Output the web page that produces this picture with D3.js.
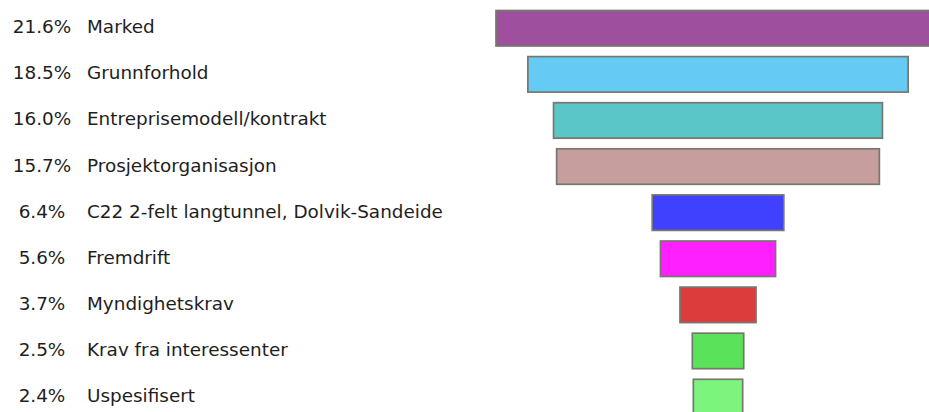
<!DOCTYPE html>
<html>
<head>
<meta charset="utf-8">
<script src="https://cdn.jsdelivr.net/npm/d3@7"></script>
<style>
  html, body { margin: 0; padding: 0; background: #fff; overflow: hidden; }
  svg { display: block; }
  text { font-family: "DejaVu Sans", sans-serif; font-size: 18.4px; fill: #1e1e1e; }
</style>
</head>
<body>
<svg id="chart"></svg>
<script>
var CATEGORIES = [
    "Marked",
    "Grunnforhold",
    "Entreprisemodell/kontrakt",
    "Prosjektorganisasjon",
    "C22 2-felt langtunnel, Dolvik-Sandeide",
    "Fremdrift",
    "Myndighetskrav",
    "Krav fra interessenter",
    "Uspesifisert"
];
var SHARES = [21.6, 18.5, 16.0, 15.7, 6.4, 5.6, 3.7, 2.5, 2.4];
var COLOURS = ["#9e509e", "#66cbf4", "#5bc6c8", "#c69e9e", "#4040ff", "#ff20ff", "#dc3c3c", "#5ae25a", "#7df57d"];

var W = 929, H = 412;
var CENTER = 718;
var fmt = d3.format(".1f");

var svg = d3.select("#chart").attr("width", W).attr("height", H);

var rows = d3.range(CATEGORIES.length);

var y = d3.scaleBand()
    .domain(rows)
    .range([5.2, 5.2 + 46.1 * rows.length])
    .paddingInner(0.23)
    .paddingOuter(0.115);

// bar width in px for a share, bars are centred on CENTER
var w = d3.scaleLinear().domain([0, 21.6]).range([0, 444]);

svg.append("g").selectAll("rect")
    .data(rows)
    .enter().append("rect")
        .attr("x", function(i) { return CENTER - w(SHARES[i]) / 2; })
        .attr("y", function(i) { return y(i); })
        .attr("width", function(i) { return w(SHARES[i]); })
        .attr("height", y.bandwidth())
        .attr("fill", function(i) { return COLOURS[i]; })
        .attr("stroke", "#77776f")
        .attr("stroke-width", 1.7);

var labels = svg.append("g");

labels.selectAll("text.pct")
    .data(rows)
    .enter().append("text")
        .attr("class", "pct")
        .attr("x", 42)
        .attr("y", function(i) { return y(i) + y.bandwidth() / 2 + 5; })
        .attr("text-anchor", "middle")
        .text(function(i) { return fmt(SHARES[i]) + "%"; });

labels.selectAll("text.cat")
    .data(rows)
    .enter().append("text")
        .attr("class", "cat")
        .attr("x", 87)
        .attr("y", function(i) { return y(i) + y.bandwidth() / 2 + 5; })
        .text(function(i) { return CATEGORIES[i]; });
</script>
</body>
</html>
